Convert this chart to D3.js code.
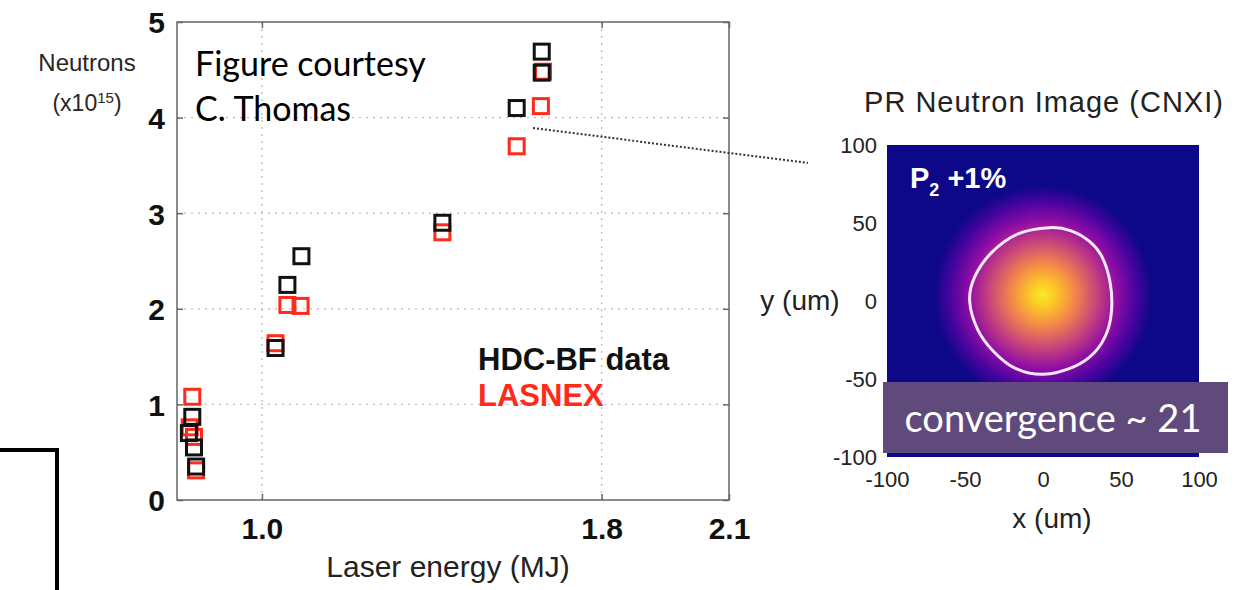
<!DOCTYPE html>
<html>
<head>
<meta charset="utf-8">
<script src="https://cdn.jsdelivr.net/npm/d3@7"></script>
<style>
  body { margin: 0; background: #fff; }
  svg { display: block; }
</style>
</head>
<body>
<div id="chart"></div>
<script>
// neutron yield vs laser energy
var dataEnergy = [1.659, 1.659, 1.600, 1.425, 1.093, 1.060, 1.032, 0.836, 0.828, 0.840, 0.845];
var dataNeutrons = [4.69, 4.47, 4.10, 2.90, 2.55, 2.25, 1.59, 0.87, 0.70, 0.55, 0.35];
var simEnergy = [1.662, 1.657, 1.600, 1.425, 1.091, 1.060, 1.032, 0.836, 0.830, 0.840, 0.845];
var simNeutrons = [4.48, 4.12, 3.70, 2.80, 2.03, 2.04, 1.64, 1.08, 0.76, 0.66, 0.31];
var xTicks = [1.0, 1.8, 2.1];
var yTicks = [0, 1, 2, 3, 4, 5];

// image panel
var umTicks = [-100, -50, 0, 50, 100];
var contourX = [4, 18, 30, 38, 43, 44, 41, 33, 20, 0, -18, -32, -42, -47, -44, -33, -16];
var contourY = [47, 45, 38, 28, 12, -5, -20, -33, -42, -47, -43, -32, -18, 0, 15, 31, 43];
var plasmaStops = [0.97, 0.88, 0.70, 0.48, 0.30, 0.12, 0.0];
var stopOffsets = [0, 0.12, 0.30, 0.50, 0.68, 0.85, 1];

var svgWidth = 1241;
var svgHeight = 590;

var svg = d3.select("#chart")
    .append("svg")
    .attr("width", svgWidth)
    .attr("height", svgHeight);

var sans = "'Liberation Sans', Arial, sans-serif";
var calibri = "Lato, 'Open Sans', sans-serif";

// ---- left scatter ----
var x = d3.scaleLinear().domain([0.8, 2.1]).range([177, 729]);
var y = d3.scaleLinear().domain([0, 5]).range([500, 22]);

var plot = svg.append("g");

// dotted grid
plot.selectAll(".hgrid")
    .data([1, 2, 3, 4])
    .enter()
    .append("line")
    .attr("x1", x(0.8)).attr("x2", x(2.1))
    .attr("y1", d => y(d)).attr("y2", d => y(d))
    .attr("stroke", "#bbb")
    .attr("stroke-width", 1.3)
    .attr("stroke-dasharray", "2,5");

plot.selectAll(".vgrid")
    .data([1.0, 1.8])
    .enter()
    .append("line")
    .attr("x1", d => x(d)).attr("x2", d => x(d))
    .attr("y1", y(0)).attr("y2", y(5))
    .attr("stroke", "#bbb")
    .attr("stroke-width", 1.3)
    .attr("stroke-dasharray", "2,5");

// frame
plot.append("rect")
    .attr("x", x(0.8)).attr("y", y(5))
    .attr("width", x(2.1) - x(0.8))
    .attr("height", y(0) - y(5))
    .attr("fill", "none")
    .attr("stroke", "#666")
    .attr("stroke-width", 1.5);

// ticks inside frame
var leftAxis = d3.axisLeft(y).tickValues(yTicks).tickSize(-6).tickFormat(d3.format("d"));
var rightAxis = d3.axisRight(y).tickValues(yTicks).tickSize(-6).tickFormat("");
var bottomAxis = d3.axisBottom(x).tickValues(xTicks).tickSize(-6).tickFormat(d3.format(".1f"));
var topAxis = d3.axisTop(x).tickValues(xTicks).tickSize(-6).tickFormat("");

function styleAxis(g) {
  g.select(".domain").remove();
  g.selectAll(".tick line").attr("stroke", "#666").attr("stroke-width", 1.5);
  g.selectAll(".tick text")
    .attr("font-family", sans)
    .attr("font-weight", "bold")
    .attr("font-size", 30)
    .attr("fill", "#111");
}

plot.append("g")
    .attr("transform", `translate(${x(0.8)},0)`)
    .call(leftAxis)
    .call(styleAxis)
    .selectAll(".tick text")
    .attr("x", -12)
    .attr("dy", "0.36em");

plot.append("g")
    .attr("transform", `translate(${x(2.1)},0)`)
    .call(rightAxis)
    .call(styleAxis);

plot.append("g")
    .attr("transform", `translate(0,${y(0)})`)
    .call(bottomAxis)
    .call(styleAxis)
    .selectAll(".tick text")
    .attr("y", 18)
    .attr("dy", "0.71em");

plot.append("g")
    .attr("transform", `translate(0,${y(5)})`)
    .call(topAxis)
    .call(styleAxis);

// dotted leader line to the image
svg.append("line")
    .attr("x1", 533).attr("y1", 128)
    .attr("x2", 808).attr("y2", 163)
    .attr("stroke", "#333")
    .attr("stroke-width", 2)
    .attr("stroke-dasharray", "2,2");

// markers: simulations under the data
var simPts = simEnergy.map((e, i) => ({e: e, n: simNeutrons[i]}));
var dataPts = dataEnergy.map((e, i) => ({e: e, n: dataNeutrons[i]}));
var side = 15;

plot.selectAll(".sim")
    .data(simPts)
    .enter()
    .append("rect")
    .attr("x", d => x(d.e) - side / 2)
    .attr("y", d => y(d.n) - side / 2)
    .attr("width", side).attr("height", side)
    .attr("fill", "none")
    .attr("stroke", "#ff2a1a")
    .attr("stroke-width", 3);

plot.selectAll(".dat")
    .data(dataPts)
    .enter()
    .append("rect")
    .attr("x", d => x(d.e) - side / 2)
    .attr("y", d => y(d.n) - side / 2)
    .attr("width", side).attr("height", side)
    .attr("fill", "none")
    .attr("stroke", "#111")
    .attr("stroke-width", 3);

// axis titles
svg.append("text")
    .attr("x", 448).attr("y", 577)
    .attr("text-anchor", "middle")
    .attr("font-family", sans)
    .attr("font-size", 30)
    .attr("fill", "#222")
    .text("Laser energy (MJ)");

svg.append("text")
    .attr("x", 87).attr("y", 71)
    .attr("text-anchor", "middle")
    .attr("font-family", sans)
    .attr("font-size", 24)
    .attr("fill", "#2b2520")
    .text("Neutrons");

var expo = svg.append("text")
    .attr("x", 87).attr("y", 111)
    .attr("text-anchor", "middle")
    .attr("font-family", sans)
    .attr("font-size", 23)
    .attr("fill", "#2b2520");
expo.append("tspan").text("(x10");
expo.append("tspan").attr("dy", -8).attr("font-size", 15).text("15");
expo.append("tspan").attr("dy", 8).text(")");

// legend
svg.append("text")
    .attr("x", 478).attr("y", 370)
    .attr("font-family", sans)
    .attr("font-weight", "bold")
    .attr("font-size", 31)
    .attr("fill", "#111")
    .text("HDC-BF data");

svg.append("text")
    .attr("x", 478).attr("y", 406)
    .attr("font-family", sans)
    .attr("font-weight", "bold")
    .attr("font-size", 31)
    .attr("fill", "#ff2a1a")
    .text("LASNEX");

// credit
svg.append("text")
    .attr("x", 195).attr("y", 76)
    .attr("font-family", calibri)
    .attr("font-size", 34)
    .attr("fill", "#000")
    .text("Figure courtesy");

svg.append("text")
    .attr("x", 195).attr("y", 121)
    .attr("font-family", calibri)
    .attr("font-size", 34)
    .attr("fill", "#000")
    .text("C. Thomas");

// bracket lines at left
svg.append("path")
    .attr("d", "M0,450 H57 V590")
    .attr("fill", "none")
    .attr("stroke", "#000")
    .attr("stroke-width", 4);

// ---- right neutron image ----
var ux = d3.scaleLinear().domain([-100, 100]).range([887, 1199]);
var uy = d3.scaleLinear().domain([-100, 100]).range([457, 145]);

var defs = svg.append("defs");
var grad = defs.append("radialGradient")
    .attr("id", "blob")
    .attr("gradientUnits", "userSpaceOnUse")
    .attr("cx", ux(0)).attr("cy", uy(4))
    .attr("r", ux(70) - ux(0));

grad.selectAll("stop")
    .data(plasmaStops)
    .enter()
    .append("stop")
    .attr("offset", (d, i) => stopOffsets[i])
    .attr("stop-color", d => d3.interpolatePlasma(d));

var img = svg.append("g");

img.append("rect")
    .attr("x", ux(-100)).attr("y", uy(100))
    .attr("width", ux(100) - ux(-100))
    .attr("height", uy(-100) - uy(100))
    .attr("fill", d3.interpolatePlasma(0));

img.append("rect")
    .attr("x", ux(-100)).attr("y", uy(100))
    .attr("width", ux(100) - ux(-100))
    .attr("height", uy(-100) - uy(100))
    .attr("fill", "url(#blob)");

var contourPts = contourX.map((v, i) => [v, contourY[i]]);
img.append("path")
    .attr("d", d3.line()
        .x(d => ux(d[0]))
        .y(d => uy(d[1]))
        .curve(d3.curveCardinalClosed)(contourPts))
    .attr("fill", "none")
    .attr("stroke", "#f6e8fa")
    .attr("stroke-width", 3);

var p2 = img.append("text")
    .attr("x", 910).attr("y", 188)
    .attr("font-family", sans)
    .attr("font-weight", "bold")
    .attr("font-size", 29)
    .attr("fill", "#fff");
p2.append("tspan").text("P");
p2.append("tspan").attr("dy", 8).attr("font-size", 18).text("2");
p2.append("tspan").attr("dy", -8).text(" +1%");

var imgLeft = d3.axisLeft(uy).tickValues(umTicks).tickSize(0).tickPadding(10)
    .tickFormat(d => String(d));
var imgBottom = d3.axisBottom(ux).tickValues(umTicks).tickSize(0).tickPadding(14)
    .tickFormat(d => String(d));

function styleImgAxis(g) {
  g.select(".domain").remove();
  g.selectAll(".tick text")
    .attr("font-family", sans)
    .attr("font-size", 22)
    .attr("fill", "#222");
}

svg.append("g")
    .attr("transform", `translate(${ux(-100)},0)`)
    .call(imgLeft)
    .call(styleImgAxis);

svg.append("g")
    .attr("transform", `translate(0,${uy(-100)})`)
    .call(imgBottom)
    .call(styleImgAxis);

svg.append("text")
    .attr("x", 1044).attr("y", 112)
    .attr("text-anchor", "middle")
    .attr("font-family", sans)
    .attr("font-size", 29)
    .attr("letter-spacing", 1)
    .attr("fill", "#222")
    .text("PR Neutron Image (CNXI)");

svg.append("text")
    .attr("x", 1052).attr("y", 528)
    .attr("text-anchor", "middle")
    .attr("font-family", sans)
    .attr("font-size", 28)
    .attr("fill", "#222")
    .text("x (um)");

svg.append("text")
    .attr("x", 800).attr("y", 310)
    .attr("text-anchor", "middle")
    .attr("font-family", sans)
    .attr("font-size", 28)
    .attr("fill", "#222")
    .text("y (um)");

// convergence label box
svg.append("rect")
    .attr("x", 883).attr("y", 382)
    .attr("width", 345).attr("height", 71)
    .attr("fill", "#604a7b");

svg.append("text")
    .attr("x", 1053).attr("y", 432)
    .attr("text-anchor", "middle")
    .attr("font-family", calibri)
    .attr("font-size", 38)
    .attr("fill", "#fff")
    .text("convergence ~ 21");
</script>
</body>
</html>
